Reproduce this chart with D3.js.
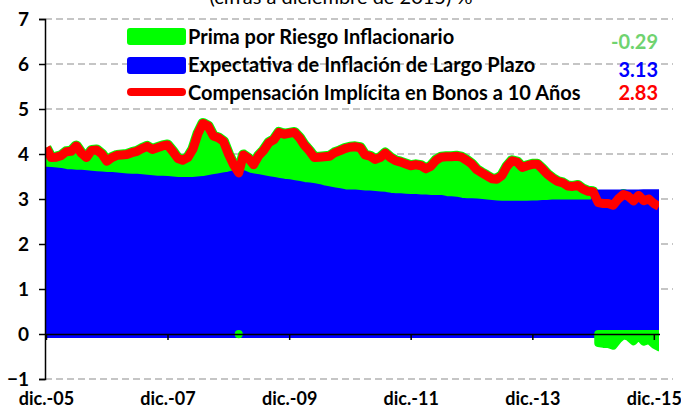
<!DOCTYPE html>
<html>
<head>
<meta charset="utf-8">
<script src="https://cdn.jsdelivr.net/npm/d3@7"></script>
<style>
  body { margin: 0; background: #fff; }
  text { font-family: Lato, "Open Sans", sans-serif; }
</style>
</head>
<body>
<div id="chart"></div>
<script>
var width = 681,
    height = 411;

// datos mensuales, dic-05 a ene-16
var inicio = new Date(2005, 11, 1);

var expectativa = [
  3.63, 3.62, 3.61, 3.60, 3.58, 3.57, 3.56, 3.56, 3.55, 3.54, 3.53,
  3.52, 3.51, 3.51, 3.50, 3.49, 3.48, 3.47, 3.47, 3.46, 3.45,
  3.44, 3.43, 3.43, 3.42, 3.41, 3.40, 3.40, 3.40, 3.40, 3.41,
  3.42, 3.44, 3.46, 3.48, 3.50, 3.52, 3.55, 3.585, 3.55, 3.50,
  3.48, 3.46, 3.44, 3.42, 3.40, 3.38, 3.36, 3.35, 3.33, 3.31,
  3.29, 3.28, 3.26, 3.24, 3.21, 3.19, 3.17, 3.15, 3.13, 3.12,
  3.12, 3.11, 3.10, 3.10, 3.09, 3.08, 3.07, 3.05, 3.04, 3.04,
  3.03, 3.02, 3.02, 3.01, 3.01, 3.00, 3.00, 3.00, 2.98, 2.97,
  2.96, 2.94, 2.93, 2.93, 2.92, 2.91, 2.90, 2.89, 2.88, 2.87,
  2.87, 2.87, 2.87, 2.87, 2.87, 2.88, 2.88, 2.89, 2.89, 2.90,
  2.90, 2.90, 2.90, 2.90, 2.90, 2.90, 2.90, 2.90, 3.12, 3.12,
  3.12, 3.12, 3.12, 3.12, 3.12, 3.12, 3.12, 3.13, 3.13, 3.13, 3.125
];

var compensacion = [
  4.14, 3.92, 3.93, 3.96, 4.05, 4.06, 4.18, 4.02, 3.92, 4.08, 4.09,
  4.00, 3.84, 3.92, 3.97, 3.98, 3.99, 4.03, 4.06, 4.12, 4.17,
  4.10, 4.14, 4.18, 4.20, 4.06, 3.90, 3.86, 3.92, 4.10, 4.45,
  4.68, 4.62, 4.40, 4.36, 4.28, 4.00, 3.76, 3.58, 3.98, 3.90,
  3.76, 3.96, 4.08, 4.25, 4.32, 4.48, 4.44, 4.46, 4.48, 4.36,
  4.20, 4.07, 3.92, 3.93, 3.94, 3.95, 4.03, 4.07, 4.12, 4.15,
  4.16, 4.14, 3.98, 3.95, 3.88, 3.92, 4.02, 3.92, 3.85, 3.82,
  3.78, 3.74, 3.76, 3.74, 3.67, 3.73, 3.86, 3.93, 3.94, 3.94,
  3.95, 3.93, 3.86, 3.78, 3.65, 3.58, 3.52, 3.45, 3.44, 3.52,
  3.72, 3.85, 3.82, 3.70, 3.74, 3.77, 3.77, 3.66, 3.55, 3.46,
  3.39, 3.36, 3.29, 3.28, 3.30, 3.22, 3.17, 3.16, 2.92, 2.90,
  2.90, 2.86, 3.00, 3.10, 3.06, 2.96, 3.08, 2.96, 3.00, 2.90, 2.834
];

var nombres = ["Prima por Riesgo Inflacionario",
               "Expectativa de Inflación de Largo Plazo",
               "Compensación Implícita en Bonos a 10 Años"];
var colores = ["#00ff00", "#0000ff", "#ff0000"];
var coloresValor = ["#6fd36f", "#0000ff", "#ff0000"];

var ticksY = [-1, 0, 1, 2, 3, 4, 5, 6, 7];
var etiquetasX = ["dic.-05", "dic.-07", "dic.-09", "dic.-11", "dic.-13", "dic.-15"];

var data = expectativa.map(function (e, i) {
  return {
    fecha: d3.timeMonth.offset(inicio, i),
    exp: e,
    comp: compensacion[i],
    prima: compensacion[i] - e
  };
});
var fechasX = etiquetasX.map(function (d, i) { return d3.timeMonth.offset(inicio, i * 24); });

var x = d3.scaleTime()
    .domain([data[0].fecha, data[data.length - 1].fecha])
    .range([46, 659]);

var y = d3.scaleLinear()
    .domain([-1, 7])
    .range([379, 19]);

var svg = d3.select("#chart")
    .append("svg")
    .attr("width", width)
    .attr("height", height);

svg.append("defs").append("clipPath")
    .attr("id", "plot")
    .append("rect")
    .attr("x", x.range()[0])
    .attr("y", 0)
    .attr("width", x.range()[1] - x.range()[0])
    .attr("height", height);

// titulo (cortado arriba)
svg.append("text")
    .attr("x", 341)
    .attr("y", 4)
    .attr("text-anchor", "middle")
    .attr("font-size", 20)
    .attr("fill", "#000")
    .text("(cifras a diciembre de 2015) %");

// rejilla
svg.append("g")
    .selectAll("line")
    .data(ticksY.filter(function (d) { return d !== 0; }))
    .enter().append("line")
    .attr("x1", 45)
    .attr("x2", 673)
    .attr("y1", function (d) { return y(d); })
    .attr("y2", function (d) { return y(d); })
    .attr("stroke", "#b3b3b3")
    .attr("stroke-width", 1.5)
    .attr("stroke-dasharray", "7,4");

var plot = svg.append("g").attr("clip-path", "url(#plot)");

// compensacion como area verde detras
plot.append("path")
    .datum(data)
    .attr("fill", colores[0])
    .attr("d", d3.area()
        .x(function (d) { return x(d.fecha); })
        .y0(y(0))
        .y1(function (d) { return y(d.comp); }));

plot.append("path")
    .datum(data)
    .attr("fill", "none")
    .attr("stroke", colores[0])
    .attr("stroke-width", 11)
    .attr("stroke-linejoin", "round")
    .attr("d", d3.line()
        .x(function (d) { return x(d.fecha); })
        .y(function (d) { return y(d.comp); }));

// expectativa
plot.append("path")
    .datum(data)
    .attr("fill", colores[1])
    .attr("stroke", colores[1])
    .attr("stroke-width", 8)
    .attr("stroke-linejoin", "round")
    .attr("d", d3.area()
        .x(function (d) { return x(d.fecha); })
        .y0(y(0))
        .y1(function (d) { return y(d.exp); }));

// prima negativa
plot.append("path")
    .datum(data)
    .attr("fill", colores[0])
    .attr("stroke", colores[0])
    .attr("stroke-width", 8)
    .attr("stroke-linejoin", "round")
    .attr("stroke-linecap", "round")
    .attr("d", d3.area()
        .defined(function (d) { return d.prima < 0; })
        .x(function (d) { return x(d.fecha); })
        .y0(y(0))
        .y1(function (d) { return y(d.prima); }));

// compensacion linea roja
plot.append("path")
    .datum(data)
    .attr("fill", "none")
    .attr("stroke", colores[2])
    .attr("stroke-width", 9)
    .attr("stroke-linejoin", "round")
    .attr("d", d3.line()
        .x(function (d) { return x(d.fecha); })
        .y(function (d) { return y(d.comp); }));

// eje Y
var ejeY = svg.append("g")
    .attr("transform", "translate(45,0)")
    .call(d3.axisLeft(y).tickValues(ticksY).tickSize(6).tickPadding(10).tickFormat(d3.format("d")));
ejeY.select(".domain").attr("stroke", "#000").attr("stroke-width", 1.5);
ejeY.selectAll(".tick line").attr("stroke", "#000").attr("stroke-width", 1.5);
ejeY.selectAll(".tick text")
    .attr("font-family", "Lato, sans-serif")
    .attr("font-size", 19)
    .attr("font-weight", "bold")
    .attr("fill", "#000");

// eje X en cero
var ejeX = svg.append("g")
    .attr("transform", "translate(0," + y(0) + ")")
    .call(d3.axisBottom(x).tickValues(fechasX).tickSize(6).tickSizeOuter(0)
        .tickFormat(function (d, i) { return etiquetasX[i]; }));
ejeX.select(".domain").attr("stroke", "#000").attr("stroke-width", 1.5).attr("d", "M45.5,0.5H660");
ejeX.selectAll(".tick line").attr("stroke", "#000").attr("stroke-width", 1.5);
ejeX.selectAll(".tick text")
    .attr("y", y(-1) - y(0) + 26)
    .attr("dy", 0)
    .attr("font-family", "Lato, sans-serif")
    .attr("font-size", 18)
    .attr("font-weight", "bold")
    .attr("fill", "#000");

// leyenda
var ultimo = data[data.length - 1];
var valores = [ultimo.prima, ultimo.exp, ultimo.comp];
var baseTexto = [16, 15, 14];
var baseValor = [20.5, 20, 14];

var legend = svg.append("g")
    .attr("transform", "translate(127, 28)")
    .selectAll(".legends").data(nombres)
    .enter().append("g")
    .attr("transform", function (d, i) { return "translate(0," + i * 29 + ")"; });

legend.filter(function (d, i) { return i < 2; })
    .append("rect")
    .attr("width", 59)
    .attr("height", 17)
    .attr("rx", 3)
    .attr("fill", function (d, i) { return colores[i]; });

legend.filter(function (d, i) { return i === 2; })
    .append("line")
    .attr("x1", 4)
    .attr("x2", 55)
    .attr("y1", 6)
    .attr("y2", 6)
    .attr("stroke", colores[2])
    .attr("stroke-width", 8)
    .attr("stroke-linecap", "round");

legend.append("text")
    .text(function (d) { return d; })
    .attr("x", 61)
    .attr("y", function (d, i) { return baseTexto[i]; })
    .attr("font-size", 20)
    .attr("font-weight", "bold")
    .attr("fill", "#000");

legend.append("text")
    .text(function (d, i) { return valores[i].toFixed(2); })
    .attr("x", 531)
    .attr("y", function (d, i) { return baseValor[i]; })
    .attr("text-anchor", "end")
    .attr("font-size", 20)
    .attr("font-weight", "bold")
    .attr("fill", function (d, i) { return coloresValor[i]; });
</script>
</body>
</html>
